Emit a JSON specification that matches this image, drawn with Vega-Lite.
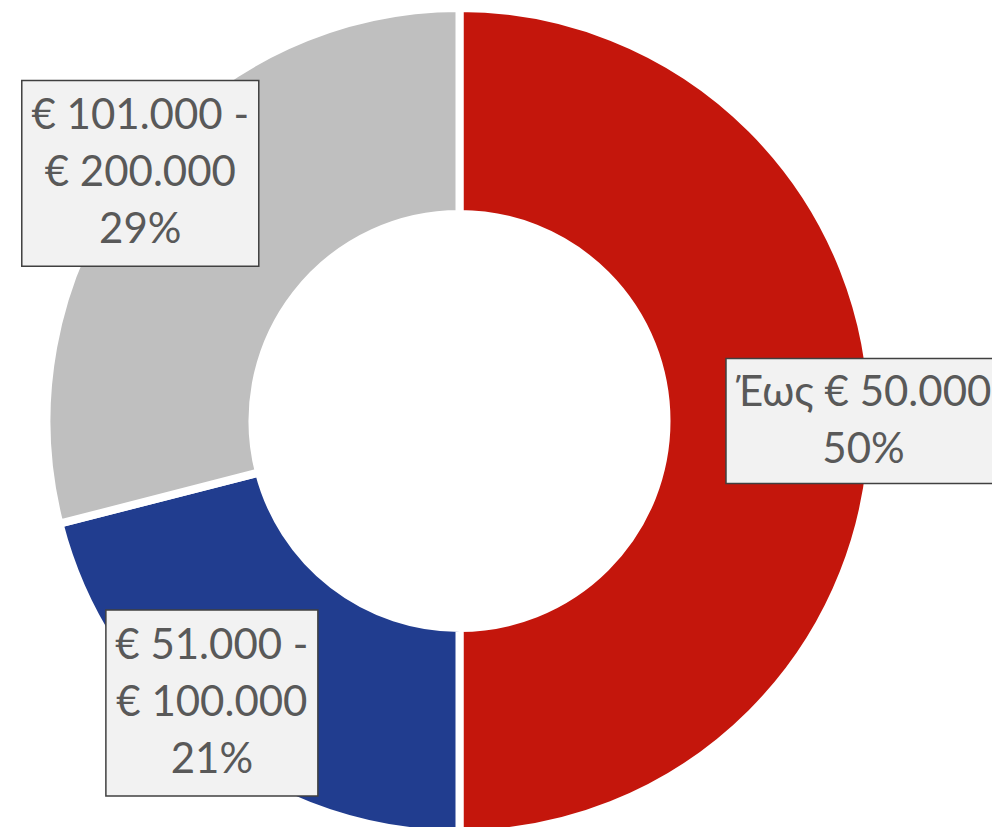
{
  "$schema": "https://vega.github.io/schema/vega-lite/v6.json",
  "width": 919,
  "height": 812,
  "padding": {"left": 0, "top": 15, "right": 73, "bottom": 0},
  "autosize": {"type": "none"},
  "background": "white",
  "config": {"view": {"stroke": null}},
  "data": {
    "values": [
      {"category": "Έως € 50.000", "lines": "Έως € 50.000", "pct": 50, "order": 1},
      {"category": "€ 51.000 - € 100.000", "lines": "€ 51.000 -\n€ 100.000", "pct": 21, "order": 2},
      {"category": "€ 101.000 - € 200.000", "lines": "€ 101.000 -\n€ 200.000", "pct": 29, "order": 3}
    ]
  },
  "transform": [
    {"window": [{"op": "sum", "field": "pct", "as": "cum"}], "sort": [{"field": "order"}], "frame": [null, 0]},
    {"calculate": "(datum.cum - datum.pct / 2) / 100 * 2 * PI", "as": "mid"},
    {"calculate": "404 * sin(datum.mid)", "as": "lx"},
    {"calculate": "max(404 * cos(datum.mid), -282)", "as": "ly"},
    {"calculate": "datum.lines + '\\n' + datum.pct + '%'", "as": "label"},
    {"calculate": "datum.ly + (length(split(datum.label, '\\n')) - 1) * 28.5", "as": "ty"}
  ],
  "layer": [
    {
      "mark": {"type": "arc", "outerRadius": 413, "innerRadius": 207, "stroke": "white", "strokeWidth": 8},
      "encoding": {
        "theta": {"field": "pct", "type": "quantitative", "stack": true},
        "order": {"field": "order", "type": "quantitative"},
        "color": {
          "field": "category",
          "type": "nominal",
          "scale": {
            "domain": ["Έως € 50.000", "€ 51.000 - € 100.000", "€ 101.000 - € 200.000"],
            "range": ["#C4160C", "#213D8F", "#BFBFBF"]
          },
          "legend": null
        }
      }
    },
    {
      "mark": {"type": "point", "filled": true, "fill": "#F2F2F2", "stroke": "#404040", "strokeWidth": 1.5, "size": 90000, "opacity": 1},
      "encoding": {
        "x": {"field": "lx", "type": "quantitative", "scale": {"domain": [-459.5, 459.5], "nice": false, "zero": false}, "axis": null},
        "y": {"field": "ly", "type": "quantitative", "scale": {"domain": [-406, 406], "nice": false, "zero": false}, "axis": null},
        "shape": {
          "field": "category",
          "type": "nominal",
          "scale": {
            "domain": ["Έως € 50.000", "€ 51.000 - € 100.000", "€ 101.000 - € 200.000"],
            "range": [
              "M-0.9167,-0.4167H0.9167V0.4167H-0.9167Z",
              "M-0.7067,-0.62H0.7067V0.62H-0.7067Z",
              "M-0.79,-0.619H0.79V0.619H-0.79Z"
            ]
          },
          "legend": null
        }
      }
    },
    {
      "mark": {"type": "text", "font": "Lato", "fontSize": 42, "lineHeight": 57, "lineBreak": "\n", "color": "#595959", "align": "center", "baseline": "middle"},
      "encoding": {
        "x": {"field": "lx", "type": "quantitative"},
        "y": {"field": "ty", "type": "quantitative"},
        "text": {"field": "label", "type": "nominal"}
      }
    }
  ]
}
